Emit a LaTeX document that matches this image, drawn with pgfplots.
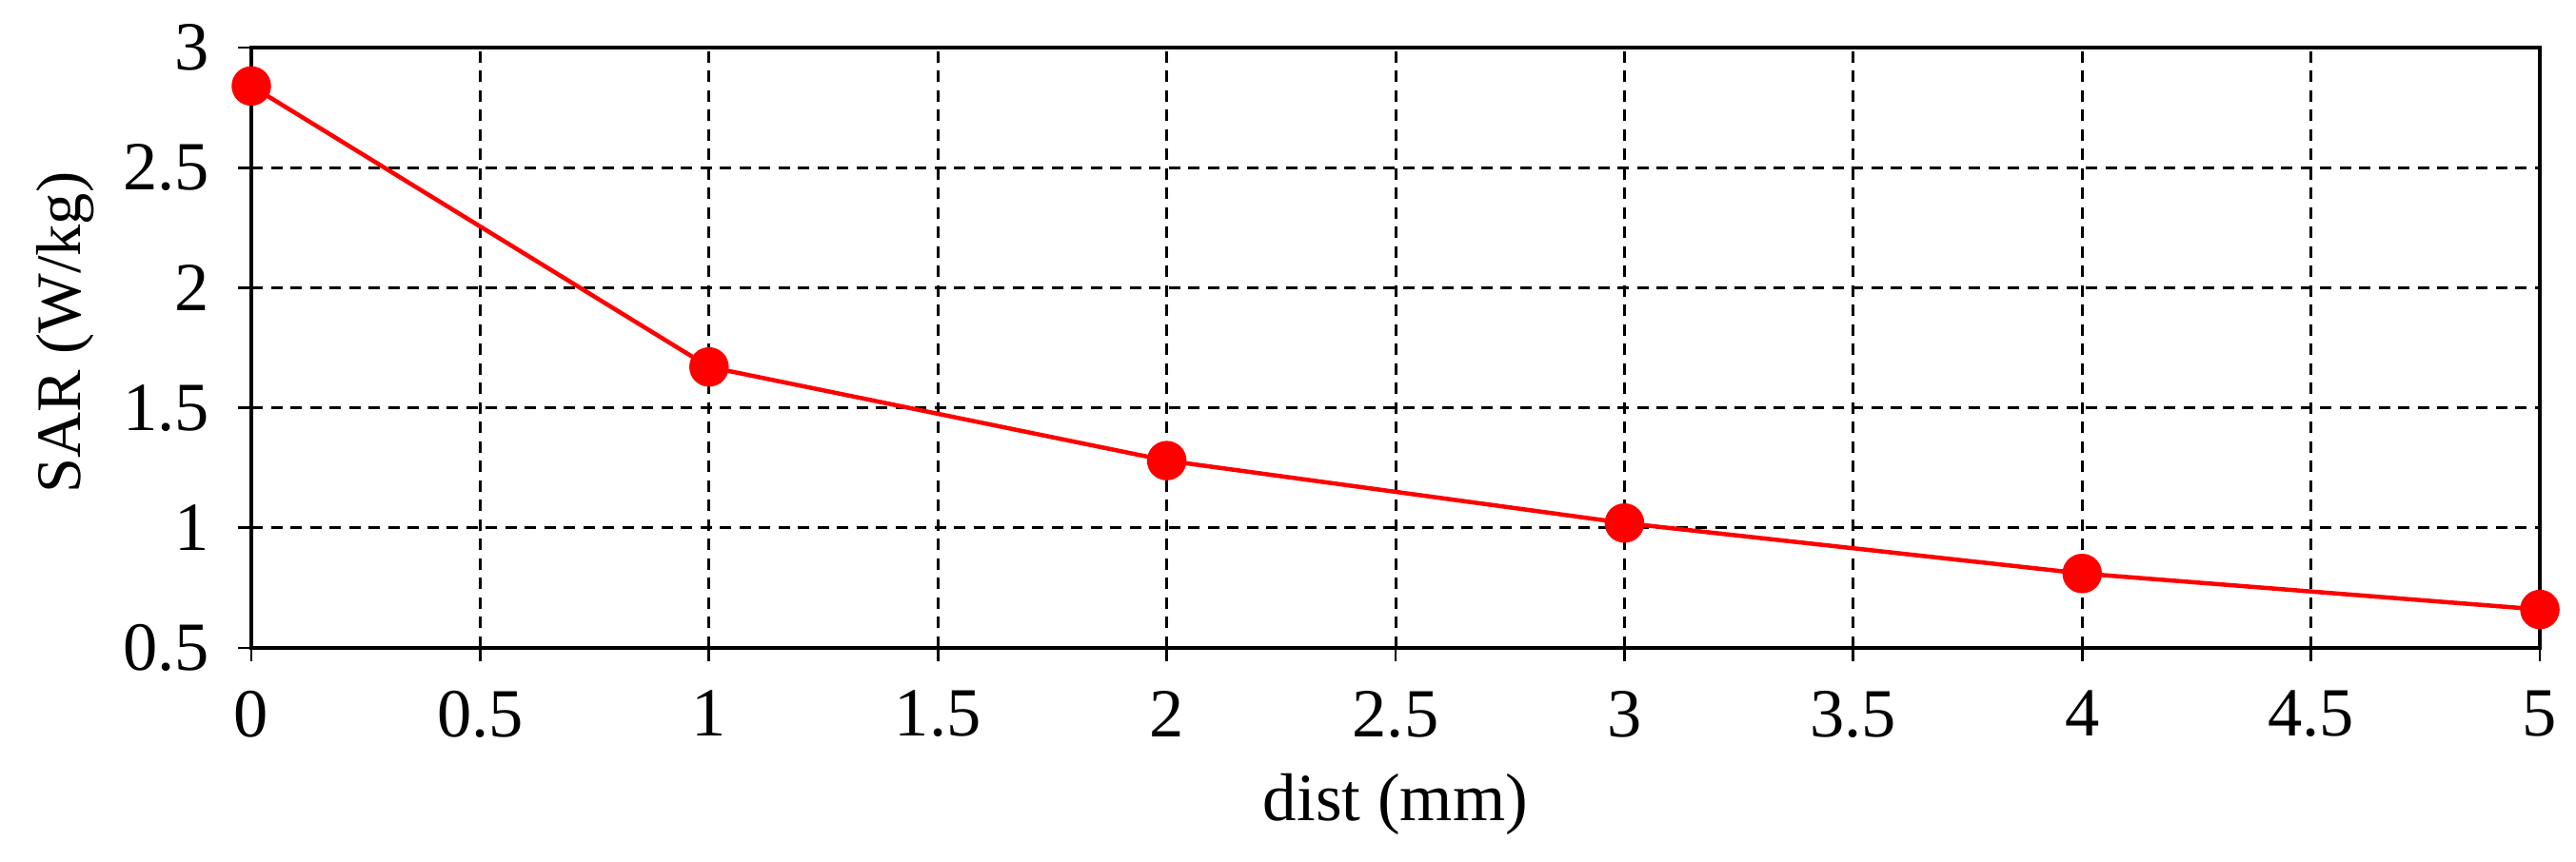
\documentclass[border=0pt]{standalone}
\usepackage{fontspec}
\setmainfont{Liberation Serif}
\usepackage{pgfplots}
\pgfplotsset{compat=1.18}
\usetikzlibrary{calc}

\begin{document}
\begin{tikzpicture}
\begin{axis}[%
    ,name=ax
    ,scale only axis
    ,width=480.8pt,height=126.2pt
    ,xmin=0,xmax=5,ymin=0.5,ymax=3
    ,xtick={0,0.5,...,5}
    ,ytick={0.5,1,...,3}
    ,tick pos=left
    ,tick align=outside
    ,major tick length=2.8pt
    ,axis line style={line width=0.65pt}
    ,every tick/.style={black,line width=0.55pt}
    ,grid=major
    ,major grid style={black,line width=0.6pt,dash pattern=on 2.4pt off 1.7pt}
    ,/pgf/number format/assume math mode=true
    ,ticklabel style={font=\fontsize{14.5}{16}\selectfont,inner sep=0pt}
    ,xticklabel style={yshift=-6pt}
    ,yticklabel style={xshift=-5.8pt}
    ,label style={inner sep=0pt}
    ,xlabel={dist (mm)}
    ,ylabel={SAR (W/kg)}
    ,xlabel style={font=\fontsize{14.2}{16}\selectfont,at={(rel axis cs:0.5,0)},anchor=north,yshift=-26.2pt}
    ,ylabel style={font=\fontsize{13.3}{15}\selectfont,at={(rel axis cs:0,0.525)},anchor=south,yshift=32.8pt}
    ,clip=false
    ]
\addplot[red,line width=0.9pt,mark=*,mark size=3.7pt,mark options={solid,fill=red,draw=red}]
    coordinates {(0,2.84) (1,1.67) (2,1.28) (3,1.02) (4,0.81) (5,0.66)};
\end{axis}
\path (ax.south west) ++(-52.8pt,-45pt) rectangle ($(ax.north east)+(7.6pt,10pt)$);
\end{tikzpicture}
\end{document}
